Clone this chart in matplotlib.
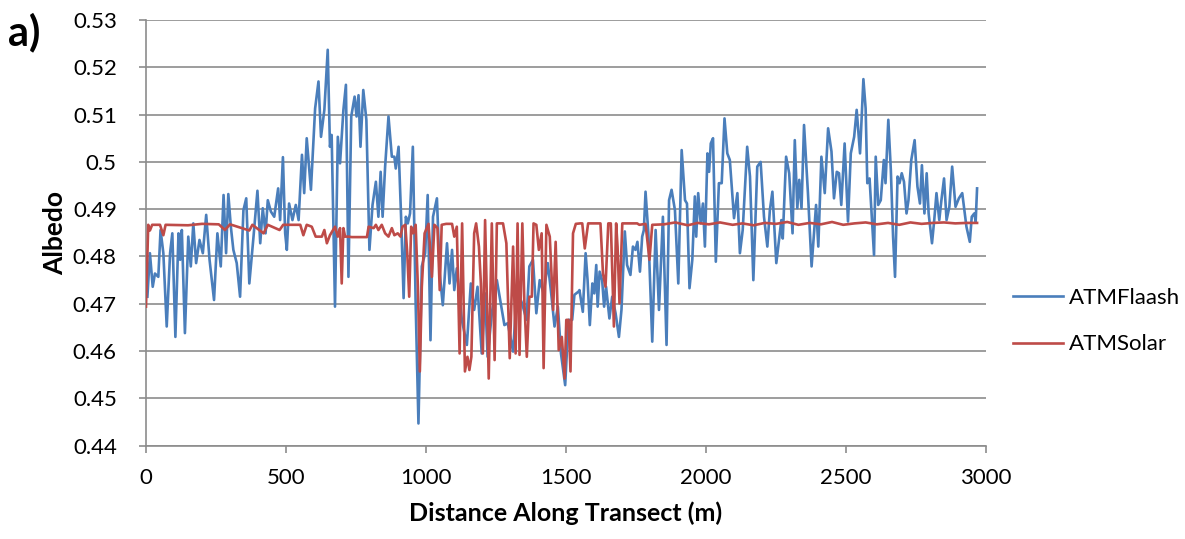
import matplotlib.pyplot as plt
from matplotlib.ticker import FuncFormatter

# ATMFlaash albedo along the transect (distance in m)
flaash_dist = [5, 14, 24, 32, 44, 52, 62, 74, 86, 94, 105, 116, 122, 128, 139, 151, 160, 169, 179, 191,
               203, 215, 227, 243, 255, 267, 277, 286, 294, 303, 312, 324, 336, 348, 358, 369, 384, 398, 408, 417,
               427, 435, 446, 458, 472, 479, 489,
               497, 503, 511, 523, 535, 545, 557, 565, 574, 589, 604, 616, 625, 637, 649, 657, 663, 675, 685, 693,
               705, 714, 723, 733, 745, 752, 759, 766, 776, 787, 798, 809, 821, 830, 838, 845, 854, 866, 878, 887,
               892, 902, 911, 920, 928, 935, 943, 953, 963, 973, 985, 997, 1006, 1016,
               1025, 1039, 1049, 1060, 1075, 1084, 1093, 1101, 1110, 1128, 1146, 1160, 1172, 1184, 1199, 1211, 1220,
               1235, 1253, 1280, 1292, 1311, 1325, 1343, 1359, 1369, 1382, 1394, 1406, 1420, 1435, 1447, 1459, 1471,
               1482, 1497, 1509, 1522, 1530, 1545,
               1548, 1560, 1570, 1577, 1585, 1594, 1601, 1608, 1613, 1620, 1629, 1636, 1643, 1655, 1665, 1677, 1689,
               1698, 1710, 1718, 1730, 1739, 1748, 1755, 1764, 1772, 1778, 1784, 1794, 1808, 1820, 1832, 1846, 1859,
               1868, 1877, 1889, 1901, 1913, 1925, 1932, 1941, 1951, 1960, 1965, 1972, 1981, 1989, 1996, 2005, 2011,
               2017, 2025, 2035, 2046, 2056,
               2066, 2076, 2085, 2100, 2112, 2121, 2131, 2147, 2157, 2169, 2183, 2195, 2207, 2219, 2228, 2237, 2251,
               2269, 2274, 2286, 2297, 2309, 2317, 2326, 2333, 2341, 2350, 2364, 2377, 2393, 2401, 2412, 2424, 2436,
               2448, 2457, 2467, 2475, 2483, 2495, 2507, 2517, 2529, 2538, 2550, 2562,
               2570, 2576, 2584, 2592, 2600, 2606, 2615, 2624, 2635, 2641, 2651, 2660, 2668, 2675, 2684, 2691, 2699,
               2707, 2716, 2723, 2733, 2745, 2755, 2764, 2771, 2780, 2788, 2795, 2807, 2815, 2823, 2833, 2840, 2850,
               2859, 2869, 2879, 2891, 2903, 2915, 2930, 2942, 2949, 2958, 2963, 2968]
flaash_albedo = [0.4715, 0.4807, 0.4736, 0.4764, 0.4757, 0.4856, 0.4807, 0.4652, 0.4807, 0.4849, 0.4630, 0.4849,
                 0.4793, 0.4856, 0.4638, 0.4842, 0.4779, 0.4870, 0.4786, 0.4835, 0.4807, 0.4888, 0.4793, 0.4708,
                 0.4849, 0.4779, 0.4930, 0.4807, 0.4932, 0.4863, 0.4814, 0.4786, 0.4715, 0.4898, 0.4923, 0.4743,
                 0.4842, 0.4939, 0.4828, 0.4902, 0.4849, 0.4919, 0.4895, 0.4884, 0.4944, 0.4877, 0.5010,
                 0.4849, 0.4814, 0.4912, 0.4877, 0.4909, 0.4877, 0.5015, 0.4934, 0.5050, 0.4941, 0.5113, 0.5170,
                 0.5053, 0.5110, 0.5237, 0.5032, 0.5057, 0.4694, 0.5053, 0.4997, 0.5110, 0.5163, 0.4757, 0.5096,
                 0.5138, 0.5096, 0.5141, 0.5032, 0.5152, 0.5089, 0.4814, 0.4909, 0.4958, 0.4884, 0.4979, 0.4884,
                 0.4990, 0.5096, 0.5011, 0.5011, 0.4986, 0.5032, 0.4884, 0.4712, 0.4884, 0.4870, 0.4891, 0.5032,
                 0.4701, 0.4447, 0.4779, 0.4807, 0.4930, 0.4623,
                 0.4884, 0.4923, 0.4764, 0.4697, 0.4828, 0.4743, 0.4814, 0.4729, 0.4775, 0.4666, 0.4613, 0.4743,
                 0.4687, 0.4736, 0.4595, 0.4722, 0.4588, 0.4680, 0.4750, 0.4655, 0.4659, 0.4599, 0.4729, 0.4701,
                 0.4666, 0.4779, 0.4793, 0.4680, 0.4750, 0.4722, 0.4786, 0.4722, 0.4652, 0.4694, 0.4595, 0.4528,
                 0.4666, 0.4666, 0.4719, 0.4726,
                 0.4729, 0.4683, 0.4807, 0.4750, 0.4655, 0.4743, 0.4722, 0.4782, 0.4694, 0.4768, 0.4750, 0.4694,
                 0.4736, 0.4669, 0.4715, 0.4680, 0.4630, 0.4687, 0.4853, 0.4782, 0.4761, 0.4821, 0.4814, 0.4831,
                 0.4768, 0.4842, 0.4856, 0.4937, 0.4849, 0.4620, 0.4856, 0.4687, 0.4884, 0.4613, 0.4919, 0.4941,
                 0.4898, 0.4743, 0.5025, 0.4919, 0.4912, 0.4733, 0.4793, 0.4927, 0.4842, 0.4934, 0.4870, 0.4912,
                 0.4821, 0.5018, 0.4979, 0.5039, 0.5050, 0.4789, 0.4955, 0.4955,
                 0.5092, 0.5018, 0.5004, 0.4881, 0.4934, 0.4807, 0.4856, 0.5032, 0.4969, 0.4750, 0.4990, 0.5000,
                 0.4884, 0.4821, 0.4898, 0.4937, 0.4786, 0.4877, 0.4838, 0.5011, 0.4976, 0.4849, 0.5046, 0.4902,
                 0.4962, 0.4902, 0.5078, 0.4934, 0.4779, 0.4909, 0.4821, 0.5011, 0.4934, 0.5071, 0.5022, 0.4923,
                 0.4979, 0.4976, 0.4909, 0.5039, 0.4874, 0.5018, 0.5053, 0.5110, 0.5018, 0.5175,
                 0.5113, 0.4955, 0.4965, 0.4884, 0.4803, 0.5011, 0.4909, 0.4919, 0.5004, 0.4955, 0.5089, 0.4983,
                 0.4842, 0.4757, 0.4969, 0.4955, 0.4976, 0.4958, 0.4891, 0.4919, 0.5004, 0.5046, 0.4948, 0.4912,
                 0.4993, 0.4891, 0.4976, 0.4891, 0.4828, 0.4877, 0.4934, 0.4877, 0.4916, 0.4965, 0.4877, 0.4905,
                 0.4990, 0.4905, 0.4923, 0.4934, 0.4863, 0.4831, 0.4884, 0.4891, 0.4874, 0.4944]

# ATMSolar albedo along the transect
solar_dist = [0, 8, 14, 22, 50, 62, 70, 150, 200, 260, 282, 300, 369, 380, 420, 435, 477, 490,
              551, 562, 574, 592, 606, 628, 637, 646, 657, 675, 685, 693, 699, 705, 711, 723, 735, 789,
              795, 813, 821, 830, 842, 854, 866, 878, 887, 899, 909, 916, 926, 933, 940, 947, 954, 963,
              971, 978, 985, 995, 1009, 1021, 1030, 1041, 1049, 1056, 1072, 1093, 1101, 1110, 1120, 1129,
              1139, 1148, 1155, 1162, 1172, 1179, 1189, 1196, 1203, 1211, 1224, 1235, 1245, 1253, 1275,
              1287, 1299, 1311, 1320, 1327, 1334, 1344, 1351, 1360, 1369, 1378, 1384, 1394, 1403, 1413,
              1420, 1430, 1442, 1454, 1463, 1474, 1485, 1495, 1501, 1509, 1516, 1525, 1535, 1551,
              1558, 1567, 1579, 1623, 1632, 1641, 1651, 1660, 1671, 1679, 1684, 1691, 1701, 1754, 1762,
              1784, 1798, 1808, 1850, 1890, 1935, 1970, 2010, 2050, 2095, 2130, 2170, 2210, 2250, 2290,
              2330, 2370, 2410, 2450, 2490, 2530, 2570, 2610, 2650, 2690, 2730, 2770, 2810, 2850, 2890,
              2930, 2968]
solar_albedo = [0.4694, 0.4867, 0.4855, 0.4867, 0.4867, 0.4845, 0.4867, 0.4866, 0.4869, 0.4868, 0.4856, 0.4868,
                0.4855, 0.4867, 0.4849, 0.4867, 0.4856, 0.4867,
                0.4867, 0.4845, 0.4867, 0.4863, 0.4842, 0.4842, 0.4856, 0.4828, 0.4845, 0.4863, 0.4842, 0.4860,
                0.4743, 0.4860, 0.4842, 0.4842, 0.4841, 0.4841,
                0.4863, 0.4860, 0.4867, 0.4856, 0.4867, 0.4849, 0.4842, 0.4860, 0.4845, 0.4849, 0.4842, 0.4863,
                0.4867, 0.4807, 0.4715, 0.4863, 0.4849, 0.4867,
                0.4736, 0.4557, 0.4736, 0.4849, 0.4869, 0.4757, 0.4867, 0.4860, 0.4729, 0.4867, 0.4869, 0.4869,
                0.4842, 0.4863, 0.4595, 0.4870,
                0.4557, 0.4588, 0.4560, 0.4588, 0.4849, 0.4870, 0.4821, 0.4743, 0.4595, 0.4877, 0.4542, 0.4870,
                0.4581, 0.4870, 0.4870,
                0.4828, 0.4585, 0.4821, 0.4595, 0.4870, 0.4592, 0.4870, 0.4708, 0.4588, 0.4715, 0.4715, 0.4870,
                0.4867, 0.4814, 0.4849,
                0.4564, 0.4867, 0.4842, 0.4687, 0.4831, 0.4602, 0.4630, 0.4542, 0.4666, 0.4666, 0.4557, 0.4849,
                0.4869, 0.4870,
                0.4870, 0.4817, 0.4870, 0.4870, 0.4764, 0.4736, 0.4870, 0.4870, 0.4652, 0.4870, 0.4821, 0.4701,
                0.4870, 0.4870, 0.4867,
                0.4869, 0.4793, 0.4867, 0.4868, 0.4872, 0.4866, 0.4871, 0.4868, 0.4872, 0.4867, 0.4870, 0.4866,
                0.4871, 0.4869, 0.4873,
                0.4867, 0.4871, 0.4868, 0.4873, 0.4867, 0.4870, 0.4872, 0.4868, 0.4871, 0.4867, 0.4872, 0.4869,
                0.4871, 0.4872, 0.4870,
                0.4871, 0.4871]

x_ticks = [0, 500, 1000, 1500, 2000, 2500, 3000]
y_ticks = [0.44, 0.45, 0.46, 0.47, 0.48, 0.49, 0.50, 0.51, 0.52, 0.53]

plt.rcParams['font.family'] = ['Lato', 'DejaVu Sans']

fig = plt.figure(figsize=(11.85, 5.39), dpi=100)
ax = fig.add_axes([0.1232, 0.1731, 0.7089, 0.7898])

ax.plot(flaash_dist, flaash_albedo, color='#4A7EBB', lw=1.9, label='ATMFlaash', zorder=3)
ax.plot(solar_dist, solar_albedo, color='#BE4B48', lw=1.9, label='ATMSolar', zorder=4)

ax.set_xlim(0, 3000)
ax.set_ylim(0.44, 0.53)
ax.set_xticks(x_ticks)
ax.set_yticks(y_ticks)
ax.yaxis.set_major_formatter(FuncFormatter(lambda v, p: f'{v:g}'))
ax.grid(axis='y', color='#8c8c8c', lw=1.2)
ax.set_axisbelow(True)

for s in ['top', 'right']:
    ax.spines[s].set_visible(False)
for s in ['left', 'bottom']:
    ax.spines[s].set_color('#8c8c8c')
    ax.spines[s].set_linewidth(1.2)
ax.tick_params(axis='both', colors='#8c8c8c', labelcolor='black', labelsize=16, length=5, width=1.2)
ax.tick_params(axis='y', pad=16)
ax.tick_params(axis='x', pad=11)

ax.set_xlabel('Distance Along Transect (m)', fontsize=18, fontweight='bold', labelpad=10)
ax.set_ylabel('Albedo', fontsize=19, fontweight='bold', labelpad=4)

fig.text(0.007, 0.915, 'a)', fontsize=30, fontweight='bold')

ax.legend(loc='center left', bbox_to_anchor=(1.008, 0.293), frameon=False, fontsize=16,
          handlelength=2.25, handletextpad=0.3, labelspacing=1.2)

fig.savefig('out.png', dpi=100)
